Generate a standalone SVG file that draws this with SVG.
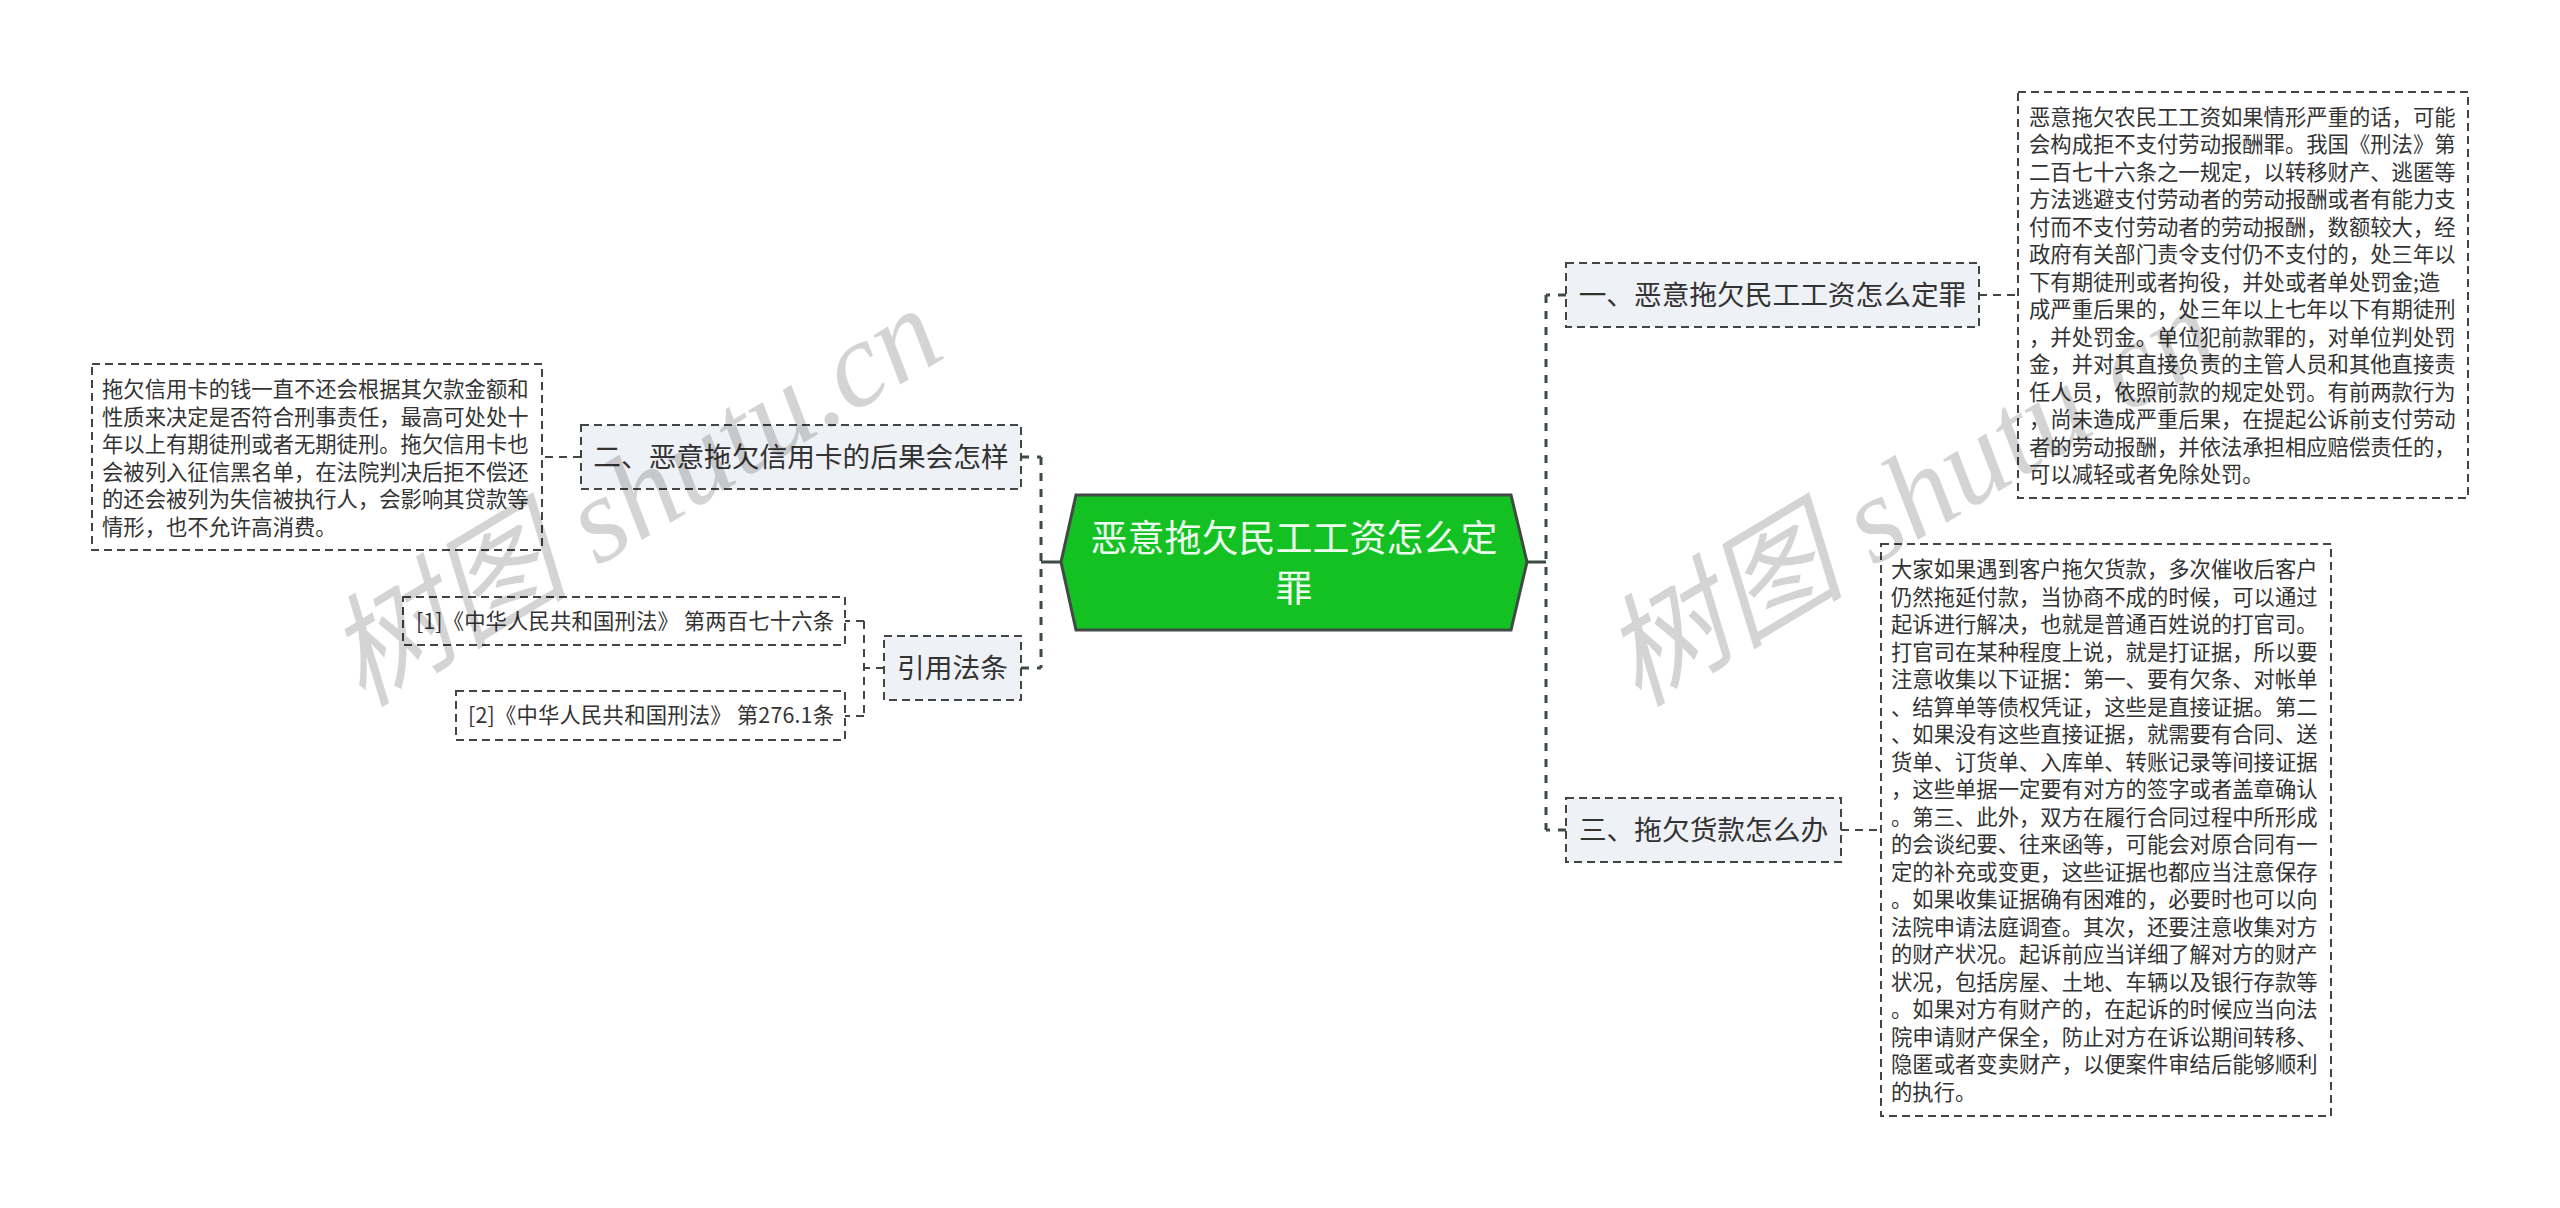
<svg xmlns="http://www.w3.org/2000/svg" width="2560" height="1208" viewBox="0 0 2560 1208">
<style>
text{font-family:"Noto Sans CJK SC","Noto Sans",sans-serif;fill:#333}
.b{font-size:21.33px}
.t{font-size:27.7px;text-anchor:middle}
.r{font-size:21.33px}
.root{font-size:37px;text-anchor:middle;fill:#eefcef}
.box{fill:none;stroke:#444;stroke-width:2;stroke-dasharray:8 5}
.topic{fill:#eef1f5;stroke:#444;stroke-width:2;stroke-dasharray:8 5}
.c1{fill:none;stroke:#3f4a44;stroke-width:3;stroke-dasharray:8 8}
.c2{fill:none;stroke:#444;stroke-width:2;stroke-dasharray:8 6}
.s{fill:none;stroke:#3f4a44;stroke-width:3}
.wm{font-family:"Liberation Serif","Noto Sans CJK SC",serif;font-style:italic;font-size:122px;fill:#000;fill-opacity:.17}
</style>
<rect width="2560" height="1208" fill="#fff"/>
<g id="connectors">
<path class="s" d="M1061 562H1041M1527 562H1546"/>
<path class="c1" d="M1041 457V668M1546 295V830"/>
<path class="c1" d="M1021 457H1041M1021 668H1041M1566 295H1546M1566 830H1546"/>
<path class="c2" d="M581 457H542M1979 295H2018M1841 830H1881M884 668H864M864 621V716M864 621H845M864 716H845"/>
</g>
<g id="root"><polygon points="1076,495 1511,495 1527,562 1511,630 1076,630 1061,562" fill="#13c122" stroke="#3f4a44" stroke-width="3"/>
<text class="root" x="1294" y="552">恶意拖欠民工工资怎么定</text><text class="root" x="1294" y="602">罪</text></g>
<g id="topic1"><rect class="topic" x="1566" y="263" width="413" height="64"/><text class="t" x="1772.5" y="305">一、恶意拖欠民工工资怎么定罪</text></g>
<g id="topic2"><rect class="topic" x="581" y="425" width="440" height="64"/><text class="t" x="801" y="467">二、恶意拖欠信用卡的后果会怎样</text></g>
<g id="topic3"><rect class="topic" x="1566" y="798" width="275" height="64"/><text class="t" x="1703.5" y="840">三、拖欠货款怎么办</text></g>
<g id="topic4"><rect class="topic" x="884" y="636" width="137" height="64"/><text class="t" x="952.5" y="678">引用法条</text></g>
<g id="ref1"><rect class="box" x="403" y="597" width="442" height="48"/><text class="r" x="416" y="629" textLength="418">[1]《中华人民共和国刑法》 第两百七十六条</text></g>
<g id="ref2"><rect class="box" x="456" y="691" width="389" height="49"/><text class="r" x="468" y="723" textLength="366">[2]《中华人民共和国刑法》 第276.1条</text></g>
<g id="detail1"><rect class="box" x="2018" y="92" width="450" height="406"/>
<text class="b" x="2029" y="124.5">恶意拖欠农民工工资如果情形严重的话，可能</text>
<text class="b" x="2029" y="152">会构成拒不支付劳动报酬罪。我国《刑法》第</text>
<text class="b" x="2029" y="179.5">二百七十六条之一规定，以转移财产、逃匿等</text>
<text class="b" x="2029" y="207">方法逃避支付劳动者的劳动报酬或者有能力支</text>
<text class="b" x="2029" y="234.5">付而不支付劳动者的劳动报酬，数额较大，经</text>
<text class="b" x="2029" y="262">政府有关部门责令支付仍不支付的，处三年以</text>
<text class="b" x="2029" y="289.5">下有期徒刑或者拘役，并处或者单处罚金;造</text>
<text class="b" x="2029" y="317">成严重后果的，处三年以上七年以下有期徒刑</text>
<text class="b" x="2029" y="344.5">，并处罚金。单位犯前款罪的，对单位判处罚</text>
<text class="b" x="2029" y="372">金，并对其直接负责的主管人员和其他直接责</text>
<text class="b" x="2029" y="399.5">任人员，依照前款的规定处罚。有前两款行为</text>
<text class="b" x="2029" y="427">，尚未造成严重后果，在提起公诉前支付劳动</text>
<text class="b" x="2029" y="454.5">者的劳动报酬，并依法承担相应赔偿责任的，</text>
<text class="b" x="2029" y="482">可以减轻或者免除处罚。</text></g>
<g id="detail2"><rect class="box" x="92" y="364" width="450" height="186"/>
<text class="b" x="102" y="397">拖欠信用卡的钱一直不还会根据其欠款金额和</text>
<text class="b" x="102" y="424.5">性质来决定是否符合刑事责任，最高可处处十</text>
<text class="b" x="102" y="452">年以上有期徒刑或者无期徒刑。拖欠信用卡也</text>
<text class="b" x="102" y="479.5">会被列入征信黑名单，在法院判决后拒不偿还</text>
<text class="b" x="102" y="507">的还会被列为失信被执行人，会影响其贷款等</text>
<text class="b" x="102" y="534.5">情形，也不允许高消费。</text></g>
<g id="detail3"><rect class="box" x="1881" y="544" width="450" height="572"/>
<text class="b" x="1891" y="577">大家如果遇到客户拖欠货款，多次催收后客户</text>
<text class="b" x="1891" y="604.5">仍然拖延付款，当协商不成的时候，可以通过</text>
<text class="b" x="1891" y="632">起诉进行解决，也就是普通百姓说的打官司。</text>
<text class="b" x="1891" y="659.5">打官司在某种程度上说，就是打证据，所以要</text>
<text class="b" x="1891" y="687">注意收集以下证据：第一、要有欠条、对帐单</text>
<text class="b" x="1891" y="714.5">、结算单等债权凭证，这些是直接证据。第二</text>
<text class="b" x="1891" y="742">、如果没有这些直接证据，就需要有合同、送</text>
<text class="b" x="1891" y="769.5">货单、订货单、入库单、转账记录等间接证据</text>
<text class="b" x="1891" y="797">，这些单据一定要有对方的签字或者盖章确认</text>
<text class="b" x="1891" y="824.5">。第三、此外，双方在履行合同过程中所形成</text>
<text class="b" x="1891" y="852">的会谈纪要、往来函等，可能会对原合同有一</text>
<text class="b" x="1891" y="879.5">定的补充或变更，这些证据也都应当注意保存</text>
<text class="b" x="1891" y="907">。如果收集证据确有困难的，必要时也可以向</text>
<text class="b" x="1891" y="934.5">法院申请法庭调查。其次，还要注意收集对方</text>
<text class="b" x="1891" y="962">的财产状况。起诉前应当详细了解对方的财产</text>
<text class="b" x="1891" y="989.5">状况，包括房屋、土地、车辆以及银行存款等</text>
<text class="b" x="1891" y="1017">。如果对方有财产的，在起诉的时候应当向法</text>
<text class="b" x="1891" y="1044.5">院申请财产保全，防止对方在诉讼期间转移、</text>
<text class="b" x="1891" y="1072">隐匿或者变卖财产，以便案件审结后能够顺利</text>
<text class="b" x="1891" y="1099.5">的执行。</text></g>
<g id="watermarks">
<text class="wm" transform="translate(362,708) rotate(-31)">树图 shutu.cn</text>
<text class="wm" transform="translate(1638,708) rotate(-31)">树图 shutu.cn</text>
</g>
</svg>
